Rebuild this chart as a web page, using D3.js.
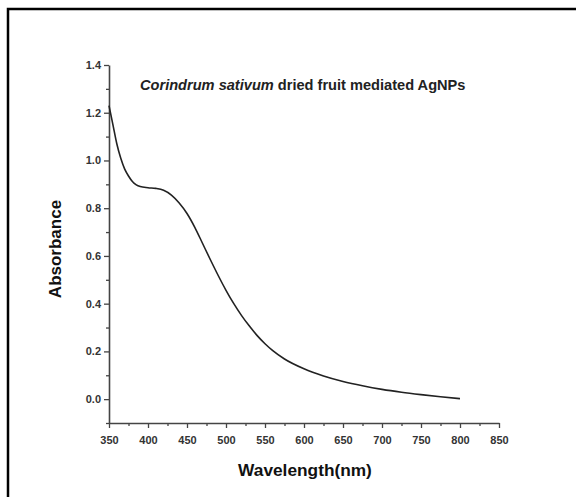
<!DOCTYPE html>
<html>
<head>
<meta charset="utf-8">
<script src="https://cdn.jsdelivr.net/npm/d3@7"></script>
<style>
  body { margin: 0; background: #fff; }
  svg { display: block; font-family: "Liberation Sans", Arial, sans-serif; }
</style>
</head>
<body>
<div id="chart"></div>
<script>
// Spectrum
const wavelength = [350, 355, 360, 365, 370, 375, 380, 385, 390, 400, 410, 420, 430, 440, 450, 460, 470, 480, 490, 500, 510, 520, 530, 540, 550, 560, 575, 600, 625, 650, 675, 700, 725, 750, 775, 800];
const absorbance = [1.23, 1.15, 1.07, 1.01, 0.965, 0.935, 0.912, 0.898, 0.891, 0.886, 0.883, 0.875, 0.855, 0.822, 0.778, 0.72, 0.652, 0.584, 0.518, 0.456, 0.4, 0.35, 0.306, 0.266, 0.232, 0.203, 0.168, 0.127, 0.097, 0.074, 0.056, 0.041, 0.029, 0.019, 0.01, 0.002];
const xTicks = [350, 400, 450, 500, 550, 600, 650, 700, 750, 800, 850];
const yTicks = [0.0, 0.2, 0.4, 0.6, 0.8, 1.0, 1.2, 1.4];

const W = 576, H = 497;
const svg = d3.select("#chart").append("svg")
    .attr("width", W)
    .attr("height", H);

// outer frame (cut off at right and bottom)
svg.append("rect")
    .attr("x", 8).attr("y", 9)
    .attr("width", 600).attr("height", 520)
    .attr("fill", "none")
    .attr("stroke", "#000")
    .attr("stroke-width", 2.5);

const x = d3.scaleLinear().domain([350, 850]).range([109, 499]);
const y = d3.scaleLinear().domain([-0.1, 1.4]).range([423, 65]);

const axisColor = "#444";

// minor ticks
const g = svg.append("g");
g.append("g")
    .attr("transform", "translate(0,423)")
    .call(d3.axisBottom(x).tickValues(d3.range(375, 850, 50)).tickSize(3).tickFormat(""))
    .call(a => a.select(".domain").remove())
    .selectAll("line").attr("stroke", axisColor).attr("stroke-width", 1.3);
g.append("g")
    .attr("transform", "translate(109,0)")
    .call(d3.axisLeft(y).tickValues([-0.1, 0.1, 0.3, 0.5, 0.7, 0.9, 1.1, 1.3]).tickSize(3).tickFormat(""))
    .call(a => a.select(".domain").remove())
    .selectAll("line").attr("stroke", axisColor).attr("stroke-width", 1.3);

// X axis
const xa = svg.append("g")
    .attr("transform", "translate(0,423)")
    .call(d3.axisBottom(x).tickValues(xTicks).tickSize(5).tickSizeOuter(0).tickPadding(8));
// Y axis
const ya = svg.append("g")
    .attr("transform", "translate(109,0)")
    .call(d3.axisLeft(y).tickValues(yTicks).tickSize(5).tickSizeOuter(0).tickPadding(3).tickFormat(d3.format(".1f")));

[xa, ya].forEach(a => {
  a.select(".domain").attr("stroke", axisColor).attr("stroke-width", 1.6);
  a.selectAll(".tick line").attr("stroke", axisColor).attr("stroke-width", 1.3);
  a.selectAll(".tick text")
      .attr("fill", "#333")
      .style("font-size", "11px")
      .style("font-weight", "bold")
      .style("font-family", "'Liberation Sans', Arial, sans-serif");
});

// Curve
const pts = wavelength.map((w, i) => [w, absorbance[i]]);
svg.append("path")
    .datum(pts)
    .attr("fill", "none")
    .attr("stroke", "#222")
    .attr("stroke-width", 1.6)
    .attr("d", d3.line().x(d => x(d[0])).y(d => y(d[1])).curve(d3.curveMonotoneX));

// Title
const title = svg.append("text")
    .attr("x", 140)
    .attr("y", 90)
    .style("font-size", "14.6px")
    .style("font-weight", "bold")
    .attr("fill", "#222");
title.append("tspan").style("font-style", "italic").text("Corindrum sativum");
title.append("tspan").text(" dried fruit mediated AgNPs");

// Axis labels
svg.append("text")
    .attr("x", 305)
    .attr("y", 476)
    .attr("text-anchor", "middle")
    .style("font-size", "17.3px")
    .style("font-weight", "bold")
    .attr("fill", "#111")
    .text("Wavelength(nm)");

svg.append("text")
    .attr("transform", "translate(61,249) rotate(-90)")
    .attr("text-anchor", "middle")
    .style("font-size", "17px")
    .style("font-weight", "bold")
    .attr("fill", "#111")
    .text("Absorbance");
</script>
</body>
</html>
